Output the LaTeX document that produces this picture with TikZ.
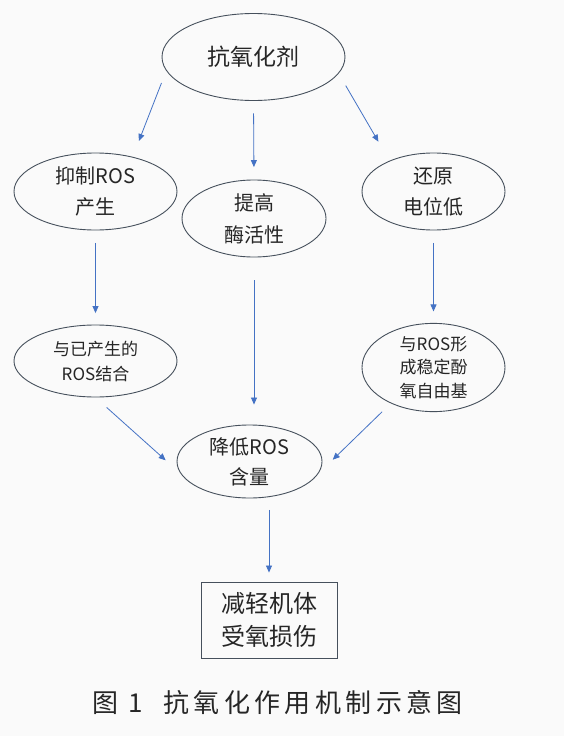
\documentclass[tikz,border=0pt]{standalone}
\usepackage{fontspec}
\setmainfont{Noto Sans CJK SC}
\newfontfamily\capfont[LetterSpace=17]{Noto Sans CJK SC}
\usetikzlibrary{positioning,shapes,arrows.meta}
\definecolor{linkblue}{HTML}{4472C4}
\definecolor{rimgray}{HTML}{46505C}
\tikzset {
    style A/.style={
        draw=rimgray,
        line width=0.9pt,
        ellipse, % Set the shape as an ellipse
        inner sep=0pt,
        align=center,
        text=black!85,
    },
    style B/.style={
        draw=rimgray,
        line width=0.9pt,
        rectangle, % Set the shape as a rectangle
        inner sep=0pt,
        align=center,
        text=black!85,
    },
    style C/.style={
        draw=linkblue,
        line width=0.8pt,
        -{Triangle[length=7pt,width=6pt]},
    },
}

\begin{document}
\begin{tikzpicture}
[x=1pt, y=-1pt]

\fill[white!98!black] (0,0) rectangle (564,736);

\node[style A, minimum width=183pt, minimum height=87pt, font=\fontsize{23}{30}\selectfont] at (253.5,57) (agent) {抗氧化剂};
\node[style A, minimum width=163pt, minimum height=77pt, font=\fontsize{20}{31}\selectfont] at (95.5,191.5) (inhibit) {抑制ROS\\产生};
\node[style A, minimum width=144pt, minimum height=77pt, font=\fontsize{20}{32}\selectfont] at (254,218.5) (enzyme) {提高\\酶活性};
\node[style A, minimum width=143pt, minimum height=77pt, font=\fontsize{20}{31}\selectfont] at (433.5,191.5) (reduce) {还原\\电位低};
\node[style A, minimum width=163pt, minimum height=72pt, font=\fontsize{17}{25}\selectfont] at (95.5,361) (bind) {与已产生的\\ROS结合};
\node[style A, minimum width=143pt, minimum height=85pt, font=\fontsize{17}{23.5}\selectfont] at (433.5,367.5) (stable) {与ROS形\\成稳定酚\\氧自由基};
\node[style A, minimum width=145pt, minimum height=73pt, font=\fontsize{20}{30}\selectfont] at (249.5,461.5) (lower) {降低ROS\\含量};
\node[style B, minimum width=136pt, minimum height=76pt, font=\fontsize{24}{33}\selectfont] at (269,620) (relief) {减轻机体\\受氧损伤};
\node[font=\fontsize{26}{30}\selectfont\capfont, text=black!85] at (277.5,703) (caption) {图 1~~抗氧化作用机制示意图};

\draw[style C, shorten <=13pt, shorten >=17pt] (agent.189) -- (inhibit.43);
\draw[style C, shorten <=12.5pt, shorten >=12.5pt] (agent.south) -- (enzyme.north);
\draw[style C, shorten <=14pt, shorten >=22pt] (agent.349) -- (reduce.145);
\draw[style C, shorten <=12.5pt, shorten >=11.5pt] (inhibit.south) -- (bind.north);
\draw[style C, shorten <=23pt, shorten >=20pt] (enzyme.south) -- (enzyme.south |- lower.north);
\draw[style C, shorten <=12.5pt, shorten >=11.5pt] (reduce.south) -- (stable.north);
\draw[style C, shorten <=15pt, shorten >=20pt] (bind.south) -- (lower.190);
\draw[style C, shorten <=12pt, shorten >=20pt] (stable.220) -- (lower.350);
\draw[style C, shorten <=11.5pt, shorten >=9pt] (lower.south -| relief.north) -- (relief.north);
\end{tikzpicture}
\end{document}
